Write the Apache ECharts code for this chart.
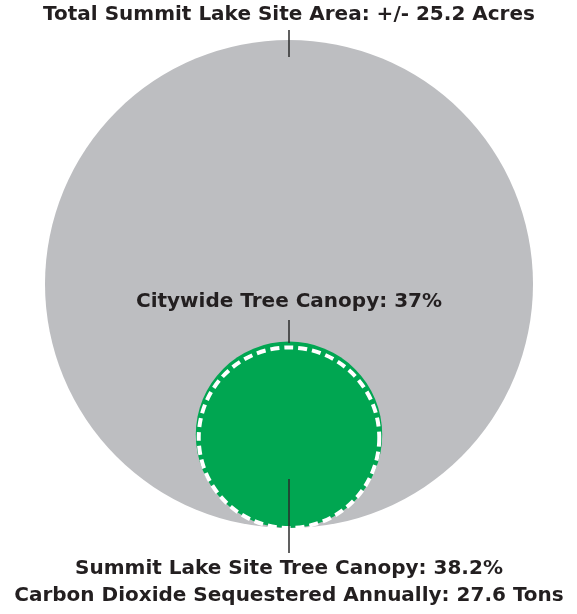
<!DOCTYPE html>
<html><head><meta charset="utf-8">
<script src="https://cdn.jsdelivr.net/npm/echarts@6/dist/echarts.min.js"></script>
<style>html,body{margin:0;padding:0;background:#fff}#c{width:577px;height:614px}</style>
</head><body><div id="c"></div>
<script>
// ---- data ----
const labels = ['Total Summit Lake Site Area', 'Citywide Tree Canopy', 'Summit Lake Site Tree Canopy', 'Carbon Dioxide Sequestered Annually'];
const values = [25.2, 37, 38.2, 27.6];
const valueText = ['+/- 25.2 Acres', '37%', '38.2%', '27.6 Tons'];
// circle radii relative to the whole site circle (site = 1, canopy circles = share of it)
const siteRadius = [1];
const canopyPct = [37, 38.2]; // citywide, site

// ---- layout (units: site circle radius = 1) ----
const PX = 244, CX = 289, CY = 284, W = 577, H = 614;
const rCity = canopyPct[0] / 100, rSite = canopyPct[1] / 100;
const circles = [
  [0, 0, siteRadius[0], 0],
  [0, -siteRadius[0] + rSite, rSite, 1],
  [0, -siteRadius[0] + rCity, rCity, 2]
];
const circleStyle = [
  {fill: '#bdbec1'},
  {fill: '#00a651'},
  {fill: 'none', stroke: '#ffffff', lineWidth: 4, lineDash: [9, 5]}
];
const leaders = [
  [[0, 1.041], [0, 0.930]],
  [[0, -0.1475], [0, -0.242]],
  [[0, -0.799], [0, -1.102]]
];
const texts = [
  [0, 1.102, labels[0] + ': ' + valueText[0]],
  [0, -0.074, labels[1] + ': ' + valueText[1]],
  [0, -1.168, labels[2] + ': ' + valueText[2]],
  [0, -1.279, labels[3] + ': ' + valueText[3]]
];
const FONT = 'bold 20px "DejaVu Sans", sans-serif';

const chart = echarts.init(document.getElementById('c'));
chart.setOption({
  animation: false,
  grid: {left: 0, right: 0, top: 0, bottom: 0},
  xAxis: {type: 'value', min: -CX / PX, max: (W - CX) / PX, show: false},
  yAxis: {type: 'value', min: -(H - CY) / PX, max: CY / PX, show: false},
  series: [
    {
      type: 'custom', z: 1, data: circles,
      renderItem(params, api) {
        const c = api.coord([api.value(0), api.value(1)]);
        const s = api.size([api.value(2), api.value(2)]);
        return {type: 'circle', shape: {cx: c[0], cy: c[1], r: s[0]}, style: circleStyle[api.value(3)]};
      }
    },
    ...leaders.map(d => ({
      type: 'line', z: 3, data: d, symbol: 'none', silent: true,
      lineStyle: {color: '#2b2b2b', width: 1.5}
    })),
    {
      type: 'custom', z: 4, data: texts,
      renderItem(params, api) {
        const t = texts[params.dataIndex];
        const c = api.coord([t[0], t[1]]);
        return {type: 'text', x: c[0], y: c[1], style: {text: t[2], font: FONT, fill: '#231f20', align: 'center', verticalAlign: 'middle'}};
      }
    }
  ]
});
</script></body></html>
